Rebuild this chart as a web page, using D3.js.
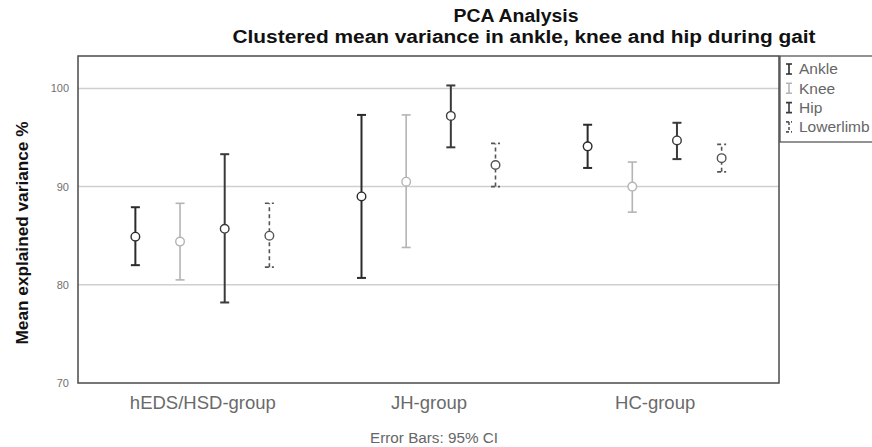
<!DOCTYPE html>
<html>
<head>
<meta charset="utf-8">
<script src="https://cdn.jsdelivr.net/npm/d3@7"></script>
<style>
  body { margin: 0; background: #fff; }
  text { font-family: "Liberation Sans", Arial, sans-serif; }
</style>
</head>
<body>
<div id="chart"></div>
<script>
// Groups and series
const groups = ["hEDS/HSD-group", "JH-group", "HC-group"];
const series = ["Ankle", "Knee", "Hip", "Lowerlimb"];

// Means and 95% CI bounds, one array per series (order follows groups)
const ankleMean = [84.9, 89.0, 94.1];
const ankleLow  = [82.0, 80.7, 91.9];
const ankleHigh = [87.9, 97.3, 96.3];

const kneeMean = [84.4, 90.5, 90.0];
const kneeLow  = [80.5, 83.8, 87.4];
const kneeHigh = [88.3, 97.3, 92.5];

const hipMean = [85.7, 97.2, 94.7];
const hipLow  = [78.2, 94.0, 92.8];
const hipHigh = [93.3, 100.3, 96.5];

const lowerMean = [85.0, 92.2, 92.9];
const lowerLow  = [81.8, 90.0, 91.5];
const lowerHigh = [88.3, 94.4, 94.3];

const yTicks = [70, 80, 90, 100];

const width = 872, height = 447;
const margin = {top: 56, right: 93, bottom: 64, left: 78};

// Line styles for each series
const styles = {
    Ankle:     {color: "#2b2b2b", width: 2,   dash: null},
    Knee:      {color: "#b4b4b4", width: 1.6, dash: null},
    Hip:       {color: "#3a3a3a", width: 2,   dash: null},
    Lowerlimb: {color: "#555555", width: 1.6, dash: "4,3"}
};

// Build a flat table from the arrays
const table = [];
const lookup = {
    Ankle: [ankleMean, ankleLow, ankleHigh],
    Knee: [kneeMean, kneeLow, kneeHigh],
    Hip: [hipMean, hipLow, hipHigh],
    Lowerlimb: [lowerMean, lowerLow, lowerHigh]
};
series.forEach(function(s) {
    groups.forEach(function(g, i) {
        table.push({group: g, series: s, mean: lookup[s][0][i],
            low: lookup[s][1][i], high: lookup[s][2][i]});
    });
});

let svg = d3.select("#chart")
    .append("svg")
    .attr("width", width)
    .attr("height", height);

let plot_w = width - margin.left - margin.right;
let plot_h = height - margin.top - margin.bottom;

let x = d3.scalePoint().domain(groups).range([0, plot_w]).padding(0.55);
let xInner = d3.scalePoint().domain(series).range([-67, 67]);
let y = d3.scaleLinear().domain([70, 103.3]).range([plot_h, 0]);

let g = svg.append("g")
    .attr("transform", `translate(${margin.left}, ${margin.top})`);

// Gridlines
g.append("g")
    .selectAll("line")
    .data(yTicks.filter(function(d) { return d > 70; }))
    .enter().append("line")
    .attr("x1", 0).attr("x2", plot_w)
    .attr("y1", function(d) { return y(d); })
    .attr("y2", function(d) { return y(d); })
    .attr("stroke", "#cfcfcf")
    .attr("stroke-width", 1.5);

// Y axis labels
let yAxis = g.append("g")
    .call(d3.axisLeft(y).tickValues(yTicks).tickSize(0).tickPadding(9));
yAxis.select(".domain").remove();
yAxis.selectAll("text")
    .style("font-size", "11px")
    .style("fill", "#707070");

// X axis labels
let xAxis = g.append("g")
    .attr("transform", `translate(0, ${plot_h})`)
    .call(d3.axisBottom(x).tickSize(0).tickPadding(13));
xAxis.select(".domain").remove();
xAxis.selectAll("text")
    .style("font-size", "18.5px")
    .style("fill", "#6a6a6a");

// Plot frame
g.append("rect")
    .attr("x", 0).attr("y", 0)
    .attr("width", plot_w).attr("height", plot_h)
    .attr("fill", "none")
    .attr("stroke", "#4a4a4a")
    .attr("stroke-width", 1.5);

// Error bars
let bars = g.append("g")
    .selectAll("g")
    .data(table)
    .enter().append("g")
    .attr("transform", function(d) {
        return `translate(${x(d.group) + xInner(d.series)}, 0)`;
    });
let cap = 4.5;
bars.append("line")
    .attr("y1", function(d) { return y(d.low); })
    .attr("y2", function(d) { return y(d.high); });
bars.append("line")
    .attr("x1", -cap).attr("x2", cap)
    .attr("y1", function(d) { return y(d.high); })
    .attr("y2", function(d) { return y(d.high); });
bars.append("line")
    .attr("x1", -cap).attr("x2", cap)
    .attr("y1", function(d) { return y(d.low); })
    .attr("y2", function(d) { return y(d.low); });
bars.selectAll("line")
    .attr("stroke", function(d) { return styles[d.series].color; })
    .attr("stroke-width", function(d) { return styles[d.series].width; })
    .attr("stroke-dasharray", function(d) { return styles[d.series].dash; });
bars.append("circle")
    .attr("cy", function(d) { return y(d.mean); })
    .attr("r", 4.3)
    .attr("fill", "#fff")
    .attr("stroke", function(d) { return styles[d.series].color; })
    .attr("stroke-width", 1.4);

// Legend
let legend = svg.append("g")
    .attr("transform", `translate(${width - margin.right + 1}, ${margin.top})`);
legend.append("rect")
    .attr("width", 120).attr("height", 86)
    .attr("fill", "#fff")
    .attr("stroke", "#4a4a4a")
    .attr("stroke-width", 1.2);
let items = legend.selectAll("g.item")
    .data(series)
    .enter().append("g")
    .attr("class", "item")
    .attr("transform", function(d, i) { return `translate(9, ${13 + i * 19.3})`; });
items.append("path")
    .attr("d", "M-3,-5H3M0,-5V5M-3,5H3")
    .attr("fill", "none")
    .attr("stroke", function(d) { return styles[d].color; })
    .attr("stroke-width", 1.6)
    .attr("stroke-dasharray", function(d) { return d === "Lowerlimb" ? "3,2" : null; });
items.append("text")
    .attr("x", 10)
    .attr("dy", "0.35em")
    .style("font-size", "15.5px")
    .style("fill", "#666")
    .text(function(d) { return d; });

// Titles
svg.append("text")
    .attr("x", 516).attr("y", 22)
    .attr("text-anchor", "middle")
    .style("font-size", "18px")
    .style("font-weight", "bold")
    .style("fill", "#111")
    .attr("textLength", 125)
    .attr("lengthAdjust", "spacingAndGlyphs")
    .text("PCA Analysis");
svg.append("text")
    .attr("x", 524).attr("y", 43)
    .attr("text-anchor", "middle")
    .style("font-size", "18px")
    .style("font-weight", "bold")
    .style("fill", "#111")
    .attr("textLength", 583)
    .attr("lengthAdjust", "spacingAndGlyphs")
    .text("Clustered mean variance in ankle, knee and hip during gait");

// Y axis title
svg.append("text")
    .attr("transform", `translate(22, 233) rotate(-90)`)
    .attr("text-anchor", "middle")
    .attr("dy", "0.35em")
    .style("font-size", "17px")
    .style("font-weight", "bold")
    .style("fill", "#111")
    .attr("textLength", 223)
    .attr("lengthAdjust", "spacingAndGlyphs")
    .text("Mean explained variance %");

// Footnote
svg.append("text")
    .attr("x", 434).attr("y", 443)
    .attr("text-anchor", "middle")
    .style("font-size", "14px")
    .style("fill", "#666")
    .attr("textLength", 128)
    .attr("lengthAdjust", "spacingAndGlyphs")
    .text("Error Bars: 95% CI");
</script>
</body>
</html>
